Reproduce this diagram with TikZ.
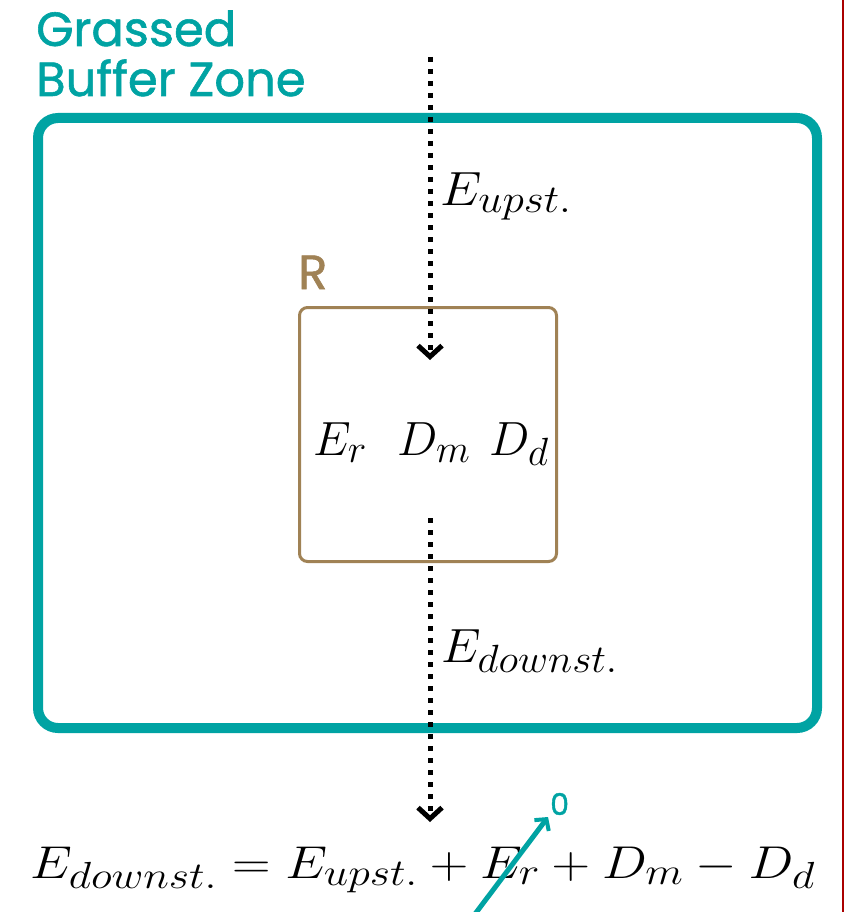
\RequirePackage{fix-cm}
\documentclass[tikz,border=0pt]{standalone}
\usepackage{amsmath,amssymb}
\usepackage{graphicx}
\usepackage{xcolor}
\usepackage{fontspec}
\usetikzlibrary{arrows.meta,positioning}
\newfontfamily\zonefont{Poppins}[FakeBold=1.2]
\renewcommand{\defaultscriptratio}{.82}
\newcommand{\widemath}[2][1.1]{\scalebox{#1}[1]{$#2$}}
\definecolor{zoneteal}{RGB}{0,163,163}
\definecolor{rbrown}{RGB}{160,130,85}
\definecolor{edgered}{RGB}{170,0,0}

\begin{document}
\begin{tikzpicture}[x=1pt,y=-1pt,
    flow/.style={line width=5pt, dash pattern=on 5pt off 7pt,
      -{Straight Barb[length=11pt,width=24pt,line width=5pt]}},
    mathlab/.style={inner sep=0pt, font=\fontsize{48}{48}\selectfont},
    eqlab/.style={inner sep=0pt, font=\fontsize{46}{46}\selectfont},
    zonetext/.style={anchor=base west, inner sep=0pt, text=zoneteal,
      font=\zonefont\fontsize{48}{48}\selectfont}]
    \useasboundingbox (0,0) rectangle (845,912);
    % frame line on the right
    \draw[edgered, line width=2pt] (843,0) -- (843,912);

    % buffer zone and its title
    \node[draw=zoneteal, line width=10pt, rounded corners=20pt, inner sep=0pt,
      minimum width=779pt, minimum height=610pt] (zone) at (427.5,423) {};
    \node[zonetext] (grassed) at (36,46) {Grassed};
    \node[zonetext] (buffer) at (36,96) {Buffer Zone};

    % reach box R
    \node[draw=rbrown, line width=3pt, rounded corners=8pt, inner sep=0pt,
      minimum width=257pt, minimum height=254pt] (reach) at (428,434.5) {};
    \node[anchor=base west, inner sep=0pt, text=rbrown,
      font=\zonefont\fontsize{48}{48}\selectfont] (rlab) at (298,289) {R};

    % terms inside R
    \node[mathlab, anchor=base west] (er) at (313,455) {$E_r$};
    \node[mathlab, anchor=base west] (dm) at (397,455) {$D_m$};
    \node[mathlab, anchor=base west] (dd) at (489,455) {$D_d$};

    % upstream and downstream flows
    \coordinate (upin) at (430,57);
    \coordinate (upend) at (430,360);
    \coordinate (downst) at (430,518);
    \coordinate (downend) at (430,822);
    \draw[flow] (upin) -- (upend);
    \draw[flow] (downst) -- (downend);
    \node[mathlab, anchor=base west] (eup) at (440,205) {\widemath{E_{upst.}}};
    \node[mathlab, anchor=base west] (edown) at (441,662) {\widemath[1.05]{E_{downst.}}};

    % balance equation
    \node[eqlab, anchor=base west] (balance) at (30,878)
      {\widemath[1.16]{E_{downst.} = E_{upst.} + E_r + D_m - D_d}};

    % E_r set to zero
    \coordinate (zerofrom) at (475,914);
    \coordinate (zeroto) at (548,817);
    \draw[zoneteal, line width=5pt,
      -{Straight Barb[length=8pt,width=18pt,line width=4pt]}] (zerofrom) -- (zeroto);
    \node[anchor=base west, inner sep=0pt, text=zoneteal,
      font=\zonefont\fontsize{30}{30}\selectfont] (zero) at (550,815) {0};
\end{tikzpicture}
\end{document}
